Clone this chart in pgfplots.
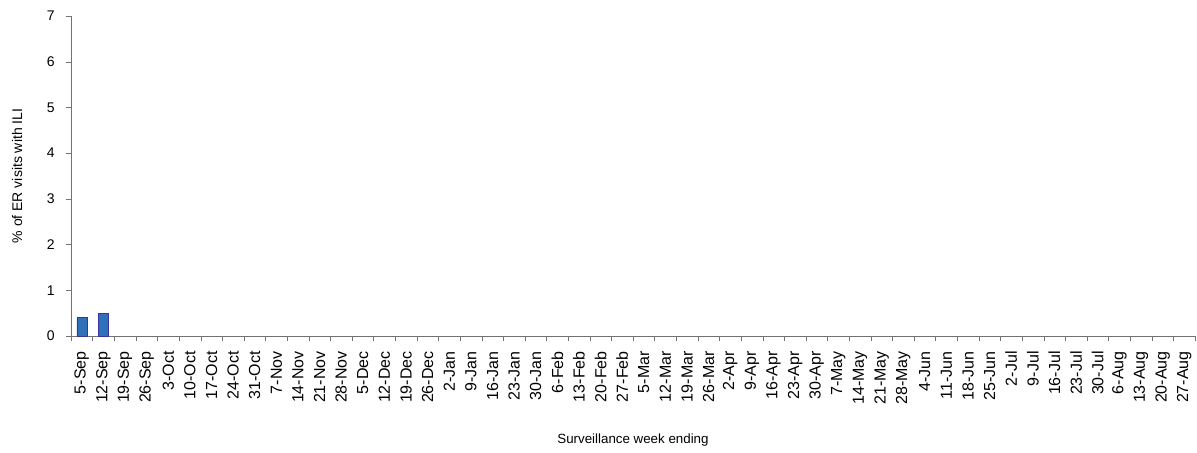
\documentclass[border=0pt]{standalone}
\usepackage{pgfplots}
\pgfplotsset{compat=1.18}
\usepackage{fontspec}
\setmainfont{Liberation Sans}
\definecolor{barfill}{HTML}{3070B8}
\definecolor{baredge}{HTML}{3535A0}

\begin{document}
\begin{tikzpicture}
\begin{axis}[
    scale only axis,
    width=843pt, height=240pt,
    xmin=-0.5, xmax=51.5,
    ymin=0, ymax=7,
    axis x line=bottom, axis y line=left,
    axis line style={-, draw=black!55},
    tick style={draw=black!55},
    tick align=outside,
    major tick length=3.75pt,
    ytick={0,...,7},
    xtick={-0.5,0.5,...,51.5},
    xticklabels={},
    extra x ticks={0,...,51},
    extra x tick labels={5-Sep,12-Sep,19-Sep,26-Sep,3-Oct,10-Oct,17-Oct,24-Oct,31-Oct,7-Nov,14-Nov,21-Nov,28-Nov,5-Dec,12-Dec,19-Dec,26-Dec,2-Jan,9-Jan,16-Jan,23-Jan,30-Jan,6-Feb,13-Feb,20-Feb,27-Feb,5-Mar,12-Mar,19-Mar,26-Mar,2-Apr,9-Apr,16-Apr,23-Apr,30-Apr,7-May,14-May,21-May,28-May,4-Jun,11-Jun,18-Jun,25-Jun,2-Jul,9-Jul,16-Jul,23-Jul,30-Jul,6-Aug,13-Aug,20-Aug,27-Aug},
    extra x tick style={major tick length=0pt,
        tick label style={rotate=90, anchor=east, xshift=-8pt, font=\fontsize{12}{14}\selectfont}},
    yticklabel style={font=\fontsize{10.5}{12}\selectfont, xshift=-5pt},
    /pgf/number format/assume math mode=true,
    xlabel={Surveillance week ending},
    ylabel={\% of ER visits with ILI},
    xlabel style={font=\fontsize{10}{12}\selectfont, at={(rel axis cs:0.5,0)}, anchor=center, yshift=-78pt},
    ylabel style={font=\fontsize{10.5}{12}\selectfont, at={(rel axis cs:0,0.5)}, anchor=center, yshift=40.5pt},
    clip=false,
]
\addplot[ybar, bar width=7.5pt, fill=barfill, draw=baredge] coordinates {(0,0.4) (1,0.5)};
\end{axis}
\pgfresetboundingbox
\path[use as bounding box] (current axis.south west) ++(-53.25pt,-87.75pt) rectangle ++(897.75pt,339.75pt);
\end{tikzpicture}
\end{document}
